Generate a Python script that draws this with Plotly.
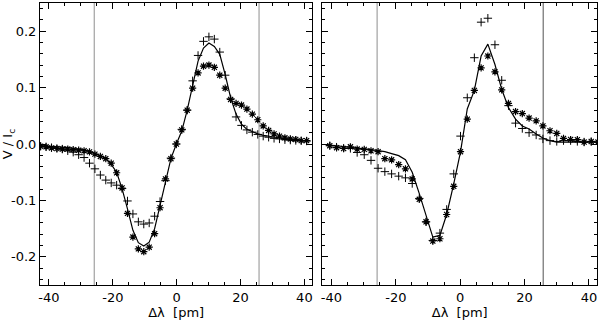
import plotly.graph_objects as go

# ---- data ----
# left panel: sampled every ~1.7 pm
left_x = [-42.6, -40.9, -39.2, -37.5, -35.8, -34.1, -32.4, -30.7, -29.0, -27.3,
          -25.6, -23.9, -22.2, -20.5, -18.8, -17.1, -15.4, -13.7, -12.0, -10.3,
          -8.6, -6.9, -5.2, -3.5, -1.8, -0.1, 1.6, 3.3, 5.0, 6.7,
          8.4, 10.1, 11.8, 13.5, 15.2, 16.9, 18.6, 20.3, 22.0, 23.7,
          25.4, 27.1, 28.8, 30.5, 32.2, 33.9, 35.6, 37.3, 39.0, 40.7]
left_star = [-0.004, -0.005, -0.007, -0.008, -0.009, -0.009, -0.010, -0.011, -0.012, -0.014,
             -0.018, -0.022, -0.026, -0.034, -0.051, -0.078, -0.123, -0.165, -0.186, -0.191,
             -0.183, -0.159, -0.113, -0.062, -0.026, 0.000, 0.025, 0.060, 0.099, 0.126,
             0.138, 0.140, 0.136, 0.122, 0.099, 0.079, 0.072, 0.069, 0.062, 0.053,
             0.043, 0.032, 0.024, 0.018, 0.014, 0.011, 0.009, 0.008, 0.006, 0.006]
left_plus = [-0.004, -0.005, -0.0065, -0.008, -0.009, -0.012, -0.0145, -0.019, -0.024, -0.034,
             -0.044, -0.055, -0.064, -0.069, -0.073, -0.079, -0.101, -0.124, -0.138, -0.142,
             -0.140, -0.128, -0.102, -0.065, -0.025, 0.000, 0.026, 0.060, 0.112, 0.157,
             0.182, 0.190, 0.186, 0.163, 0.122, 0.080, 0.048, 0.033, 0.025, 0.021,
             0.017, 0.014, 0.012, 0.010, 0.009, 0.0076, 0.007, 0.0063, 0.0058, 0.0053]
left_fit = [-0.003, -0.0035, -0.004, -0.005, -0.0056, -0.0065, -0.0078, -0.009, -0.011, -0.013,
            -0.0166, -0.021, -0.026, -0.036, -0.050, -0.079, -0.115, -0.153, -0.175, -0.181,
            -0.174, -0.150, -0.109, -0.065, -0.026, 0.000, 0.023, 0.060, 0.103, 0.147,
            0.170, 0.179, 0.173, 0.159, 0.123, 0.082, 0.053, 0.035, 0.026, 0.022,
            0.018, 0.0155, 0.0138, 0.0116, 0.0106, 0.0097, 0.008, 0.0072, 0.0063, 0.0058]

# right panel: sampled every ~2.14 pm
right_x = [-40.5, -38.4, -36.2, -34.1, -32.0, -29.8, -27.7, -25.5, -23.4, -21.3,
           -19.1, -17.0, -14.9, -12.7, -10.6, -8.5, -6.3, -4.2, -2.0, 0.1,
           2.2, 4.4, 6.5, 8.6, 10.8, 12.9, 15.0, 17.2, 19.3, 21.4,
           23.6, 25.7, 27.9, 30.0, 32.1, 34.3, 36.4, 38.5, 40.7, 42.8]
right_star = [-0.003, -0.0065, -0.008, -0.005, -0.009, -0.0095, -0.012, -0.0136, -0.026, -0.028,
              -0.0365, -0.044, -0.062, -0.098, -0.138, -0.172, -0.168, -0.125, -0.075, -0.0136,
              0.044, 0.095, 0.135, 0.156, 0.128, 0.096, 0.072, 0.0575, 0.054, 0.046,
              0.041, 0.032, 0.0235, 0.0187, 0.010, 0.008, 0.0076, 0.0035, 0.0046, 0.0035]
right_plus = [-0.003, -0.0056, -0.0074, -0.0078, -0.015, -0.019, -0.029, -0.043, -0.049, -0.053,
              -0.057, -0.060, -0.070, -0.0965, -0.138, -0.171, -0.158, -0.116, -0.053, 0.014,
              0.082, 0.153, 0.216, 0.223, 0.176, 0.113, 0.068, 0.037, 0.0275, 0.020,
              0.016, 0.009, 0.006, 0.0046, 0.006, 0.006, 0.0046, 0.0035, 0.004, 0.0035]
right_fit = [-0.0018, -0.003, -0.0048, -0.006, -0.0078, -0.0088, -0.010, -0.0118, -0.0136, -0.017,
             -0.0206, -0.028, -0.050, -0.088, -0.126, -0.165, -0.162, -0.125, -0.0705, -0.014,
             0.062, 0.095, 0.156, 0.177, 0.141, 0.097, 0.0645, 0.044, 0.032, 0.0265,
             0.0176, 0.0106, 0.0058, 0.0035, 0.0035, 0.0035, 0.0035, 0.0035, 0.0035, 0.0035]

vlines = [-25.8, 25.8]
xtick_vals = [-40, -20, 0, 20, 40]
xtick_text = ["-40", "-20", "0", "20", "40"]
ytick_vals = [-0.2, -0.1, 0.0, 0.1, 0.2]
ytick_text = ["-0.2", "-0.1", "0.0", "0.1", "0.2"]

FONT = "DejaVu Sans"

fig = go.Figure()
for xa, ya, xs, star, plus, fit in [("x", "y", left_x, left_star, left_plus, left_fit),
                                    ("x2", "y2", right_x, right_star, right_plus, right_fit)]:
    fig.add_trace(go.Scatter(x=xs, y=fit, mode="lines", xaxis=xa, yaxis=ya,
                             line=dict(color="black", width=1.2), showlegend=False))
    fig.add_trace(go.Scatter(x=xs, y=plus, mode="markers", xaxis=xa, yaxis=ya,
                             marker=dict(symbol="cross-thin", size=6, color="black",
                                         line=dict(color="black", width=1)),
                             showlegend=False))
    fig.add_trace(go.Scatter(x=xs, y=star, mode="markers", xaxis=xa, yaxis=ya,
                             marker=dict(symbol="asterisk", size=6, color="black",
                                         line=dict(color="black", width=1.2)),
                             showlegend=False))

# gray reference lines (the right panel's right one is a bit darker)
vline_colors = {("x", -25.8): "#a8a8a8", ("x", 25.8): "#a8a8a8",
                ("x2", -25.8): "#a8a8a8", ("x2", 25.8): "#7a7a7a"}
for xr in ["x", "x2"]:
    for v in vlines:
        fig.add_shape(type="line", xref=xr, yref="y domain", x0=v, x1=v, y0=0, y1=1,
                      line=dict(color=vline_colors[(xr, v)], width=1.3), layer="below")

xcommon = dict(range=[-42.8, 42.5], tickvals=xtick_vals, ticktext=xtick_text,
               ticks="inside", ticklen=6, tickcolor="black", mirror="allticks",
               showline=True, linecolor="black", linewidth=1, showgrid=False, zeroline=False,
               minor=dict(dtick=5, ticks="inside", ticklen=3, tickcolor="black"),
               tickfont=dict(size=13, family=FONT, color="black"), automargin=False,
               title=dict(text="Δλ  [pm]", font=dict(size=13, family=FONT, color="black"),
                          standoff=2))
ycommon = dict(range=[-0.25, 0.25], tickvals=ytick_vals, ticktext=ytick_text,
               ticks="inside", ticklen=6, tickcolor="black", mirror="allticks",
               showline=True, linecolor="black", linewidth=1, showgrid=False, zeroline=False,
               minor=dict(dtick=0.02, ticks="inside", ticklen=3, tickcolor="black"),
               tickfont=dict(size=13, family=FONT, color="black"), automargin=False)

fig.update_layout(
    width=600, height=322,
    margin=dict(l=40, r=3, t=3, b=37),
    paper_bgcolor="white", plot_bgcolor="white",
    xaxis=dict(domain=[0, 0.489], anchor="y", **xcommon),
    xaxis2=dict(domain=[0.507, 1], anchor="y2", **xcommon),
    yaxis=dict(anchor="x", title=dict(text="V / I<sub>c</sub>", standoff=2,
                                      font=dict(size=13, family=FONT, color="black")),
               **ycommon),
    yaxis2=dict(anchor="x2", showticklabels=False, **ycommon),
)

# page body has a default 8px margin; drop it so the figure fills the window
fig.write_html("out.html", config={"displayModeBar": False},
               post_script="document.body.style.margin='0';")
